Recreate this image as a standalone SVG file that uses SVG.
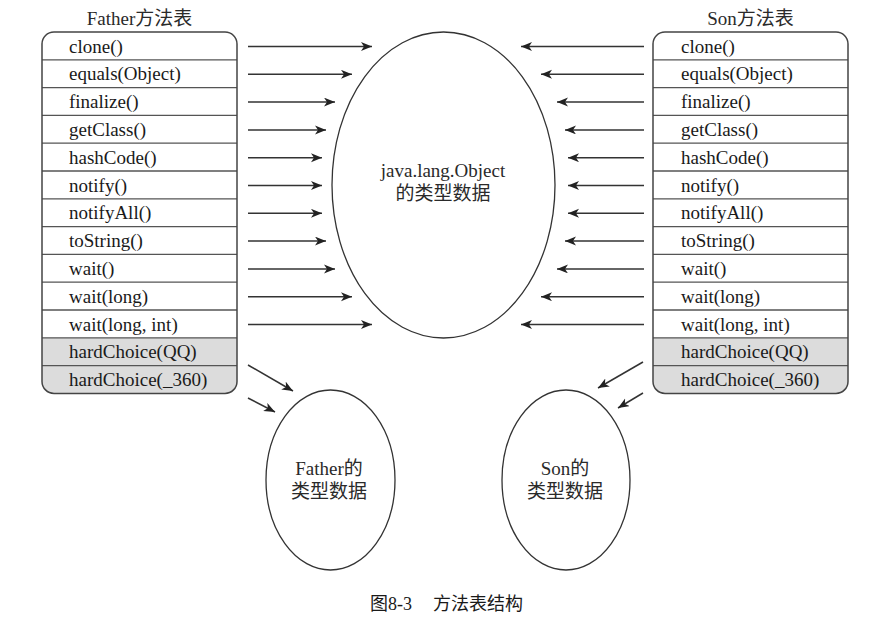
<svg xmlns="http://www.w3.org/2000/svg" width="871" height="625" viewBox="0 0 871 625">
<style>
  .t { font-family: 'Liberation Serif', 'Noto Sans CJK SC', serif; font-size: 19px; fill: #1a1a1a; }
  .tc { font-family: 'Liberation Serif', 'Noto Sans CJK SC', serif; font-size: 19px; fill: #2a2a2a; text-anchor: middle; }
  .cap { font-family: 'Liberation Serif', 'Noto Sans CJK SC', serif; font-size: 18px; fill: #1a1a1a; }
  .box { fill: none; stroke: #444; stroke-width: 1.5; }
  .bg { fill: #ffffff; }
  .gray { fill: #dcdcdc; }
  .row { stroke: #555; stroke-width: 1.3; }
  .ell { fill: #ffffff; stroke: #333; stroke-width: 1.3; }
  .arr { stroke: #333; stroke-width: 1.5; fill: none; marker-end: url(#ah); }
</style>
<defs>
  <marker id="ah" markerUnits="userSpaceOnUse" markerWidth="12" markerHeight="10" refX="11" refY="4.5" orient="auto">
    <path d="M0,0 L11,4.5 L0,9 L3,4.5 Z" fill="#222"/>
  </marker>
</defs>
<rect width="871" height="625" fill="#ffffff"/>

<g id="father-table">
  <text class="tc" x="139.5" y="25">Father方法表</text>
  <path class="bg" d="M54,32 H225 A12,12 0 0 1 237,44 V381.4 A12,12 0 0 1 225,393.4 H54 A12,12 0 0 1 42,381.4 V44 A12,12 0 0 1 54,32 Z"/>
  <path class="gray" d="M42,337.8 H237 V381.4 A12,12 0 0 1 225,393.4 H54 A12,12 0 0 1 42,381.4 Z"/>
  <g class="row">
    <line x1="42" y1="59.8" x2="237" y2="59.8"/>
    <line x1="42" y1="87.6" x2="237" y2="87.6"/>
    <line x1="42" y1="115.4" x2="237" y2="115.4"/>
    <line x1="42" y1="143.2" x2="237" y2="143.2"/>
    <line x1="42" y1="171" x2="237" y2="171"/>
    <line x1="42" y1="198.8" x2="237" y2="198.8"/>
    <line x1="42" y1="226.6" x2="237" y2="226.6"/>
    <line x1="42" y1="254.4" x2="237" y2="254.4"/>
    <line x1="42" y1="282.2" x2="237" y2="282.2"/>
    <line x1="42" y1="310" x2="237" y2="310"/>
    <line x1="42" y1="337.8" x2="237" y2="337.8"/>
    <line x1="42" y1="365.6" x2="237" y2="365.6"/>
  </g>
  <path class="box" d="M54,32 H225 A12,12 0 0 1 237,44 V381.4 A12,12 0 0 1 225,393.4 H54 A12,12 0 0 1 42,381.4 V44 A12,12 0 0 1 54,32 Z"/>
  <text class="t" x="69" y="52.5">clone()</text>
  <text class="t" x="69" y="80.3">equals(Object)</text>
  <text class="t" x="69" y="108.1">finalize()</text>
  <text class="t" x="69" y="135.9">getClass()</text>
  <text class="t" x="69" y="163.7">hashCode()</text>
  <text class="t" x="69" y="191.5">notify()</text>
  <text class="t" x="69" y="219.3">notifyAll()</text>
  <text class="t" x="69" y="247.1">toString()</text>
  <text class="t" x="69" y="274.9">wait()</text>
  <text class="t" x="69" y="302.7">wait(long)</text>
  <text class="t" x="69" y="330.5">wait(long, int)</text>
  <text class="t" x="69" y="358.3">hardChoice(QQ)</text>
  <text class="t" x="69" y="386.1">hardChoice(_360)</text>
</g>

<g id="son-table">
  <text class="tc" x="750.5" y="25">Son方法表</text>
  <path class="bg" d="M665,32 H836 A12,12 0 0 1 848,44 V381.4 A12,12 0 0 1 836,393.4 H665 A12,12 0 0 1 653,381.4 V44 A12,12 0 0 1 665,32 Z"/>
  <path class="gray" d="M653,337.8 H848 V381.4 A12,12 0 0 1 836,393.4 H665 A12,12 0 0 1 653,381.4 Z"/>
  <g class="row">
    <line x1="653" y1="59.8" x2="848" y2="59.8"/>
    <line x1="653" y1="87.6" x2="848" y2="87.6"/>
    <line x1="653" y1="115.4" x2="848" y2="115.4"/>
    <line x1="653" y1="143.2" x2="848" y2="143.2"/>
    <line x1="653" y1="171" x2="848" y2="171"/>
    <line x1="653" y1="198.8" x2="848" y2="198.8"/>
    <line x1="653" y1="226.6" x2="848" y2="226.6"/>
    <line x1="653" y1="254.4" x2="848" y2="254.4"/>
    <line x1="653" y1="282.2" x2="848" y2="282.2"/>
    <line x1="653" y1="310" x2="848" y2="310"/>
    <line x1="653" y1="337.8" x2="848" y2="337.8"/>
    <line x1="653" y1="365.6" x2="848" y2="365.6"/>
  </g>
  <path class="box" d="M665,32 H836 A12,12 0 0 1 848,44 V381.4 A12,12 0 0 1 836,393.4 H665 A12,12 0 0 1 653,381.4 V44 A12,12 0 0 1 665,32 Z"/>
  <text class="t" x="681" y="52.5">clone()</text>
  <text class="t" x="681" y="80.3">equals(Object)</text>
  <text class="t" x="681" y="108.1">finalize()</text>
  <text class="t" x="681" y="135.9">getClass()</text>
  <text class="t" x="681" y="163.7">hashCode()</text>
  <text class="t" x="681" y="191.5">notify()</text>
  <text class="t" x="681" y="219.3">notifyAll()</text>
  <text class="t" x="681" y="247.1">toString()</text>
  <text class="t" x="681" y="274.9">wait()</text>
  <text class="t" x="681" y="302.7">wait(long)</text>
  <text class="t" x="681" y="330.5">wait(long, int)</text>
  <text class="t" x="681" y="358.3">hardChoice(QQ)</text>
  <text class="t" x="681" y="386.1">hardChoice(_360)</text>
</g>

<g id="object-data">
  <ellipse class="ell" cx="443.5" cy="185" rx="111.5" ry="153"/>
  <text class="tc" x="443" y="177">java.lang.Object<tspan x="443" dy="23">的类型数据</tspan></text>
</g>

<g id="father-data">
  <ellipse class="ell" cx="330.5" cy="480" rx="64.5" ry="90"/>
  <text class="tc" x="329" y="475">Father的<tspan x="329" dy="23">类型数据</tspan></text>
</g>

<g id="son-data">
  <ellipse class="ell" cx="566" cy="480" rx="64" ry="90"/>
  <text class="tc" x="565" y="475">Son的<tspan x="565" dy="23">类型数据</tspan></text>
</g>

<g id="connectors">
  <line class="arr" x1="248" y1="46.5" x2="372" y2="46.5"/>
  <line class="arr" x1="248" y1="74.3" x2="352" y2="74.3"/>
  <line class="arr" x1="248" y1="102.1" x2="335" y2="102.1"/>
  <line class="arr" x1="248" y1="129.9" x2="326" y2="129.9"/>
  <line class="arr" x1="248" y1="157.7" x2="322" y2="157.7"/>
  <line class="arr" x1="248" y1="185.5" x2="322" y2="185.5"/>
  <line class="arr" x1="248" y1="213.3" x2="322" y2="213.3"/>
  <line class="arr" x1="248" y1="241.1" x2="326" y2="241.1"/>
  <line class="arr" x1="248" y1="268.9" x2="335" y2="268.9"/>
  <line class="arr" x1="248" y1="296.7" x2="352" y2="296.7"/>
  <line class="arr" x1="248" y1="324.5" x2="372" y2="324.5"/>

  <line class="arr" x1="644" y1="46.5" x2="521" y2="46.5"/>
  <line class="arr" x1="644" y1="74.3" x2="541" y2="74.3"/>
  <line class="arr" x1="644" y1="102.1" x2="557" y2="102.1"/>
  <line class="arr" x1="644" y1="129.9" x2="565" y2="129.9"/>
  <line class="arr" x1="644" y1="157.7" x2="568" y2="157.7"/>
  <line class="arr" x1="644" y1="185.5" x2="568" y2="185.5"/>
  <line class="arr" x1="644" y1="213.3" x2="568" y2="213.3"/>
  <line class="arr" x1="644" y1="241.1" x2="565" y2="241.1"/>
  <line class="arr" x1="644" y1="268.9" x2="557" y2="268.9"/>
  <line class="arr" x1="644" y1="296.7" x2="541" y2="296.7"/>
  <line class="arr" x1="644" y1="324.5" x2="521" y2="324.5"/>

  <line class="arr" x1="248" y1="365" x2="293" y2="391"/>
  <line class="arr" x1="248" y1="398" x2="275" y2="412"/>
  <line class="arr" x1="643" y1="362" x2="598" y2="388"/>
  <line class="arr" x1="643" y1="393" x2="618" y2="408"/>
</g>

<text class="cap" x="370" y="610">图8-3<tspan x="433">方法表结构</tspan></text>
</svg>
